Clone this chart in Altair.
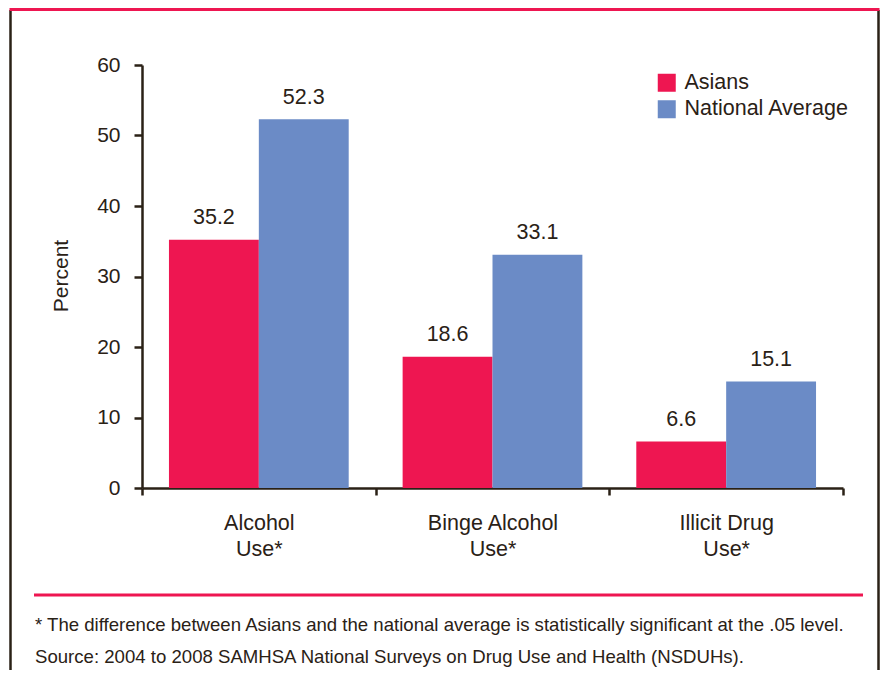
import altair as alt
import pandas as pd

categories = ["Alcohol Use*", "Binge Alcohol Use*", "Illicit Drug Use*"]
groups = ["Asians", "National Average"]
asians = [35.2, 18.6, 6.6]
national = [52.3, 33.1, 15.1]
y_ticks = [0, 10, 20, 30, 40, 50, 60]
footnote1 = "* The difference between Asians and the national average is statistically significant at the .05 level."
footnote2 = "Source: 2004 to 2008 SAMHSA National Surveys on Drug Use and Health (NSDUHs)."

PINK = "#EE1651"
BLUE = "#6B8BC6"
INK = "#2a2116"
FONT = "Liberation Sans"

rows = []
for c, a, n in zip(categories, asians, national):
    rows.append({"category": c, "group": groups[0], "value": a})
    rows.append({"category": c, "group": groups[1], "value": n})
df = pd.DataFrame(rows)

W, H = 701, 423

x_enc = alt.X(
    "category:N",
    sort=categories,
    scale=alt.Scale(paddingInner=0, paddingOuter=0),
    axis=alt.Axis(
        title=None,
        labelAngle=0,
        labelExpr="[slice(datum.label, 0, lastindexof(datum.label, ' ')), slice(datum.label, lastindexof(datum.label, ' ') + 1)]",
        labelFontSize=21.5,
        labelLineHeight=26,
        labelPadding=17,
        labelColor=INK,
        tickBand="extent",
        tickSize=7,
        tickWidth=2.5,
        tickColor=INK,
        domainWidth=2.5,
        domainColor=INK,
        grid=False,
    ),
)
xoff_enc = alt.XOffset(
    "group:N", sort=groups, scale=alt.Scale(paddingInner=0, paddingOuter=0.3)
)
y_enc = alt.Y(
    "value:Q",
    scale=alt.Scale(domain=[0, 60], nice=False),
    axis=alt.Axis(
        title="Percent",
        values=y_ticks,
        grid=False,
        labelFontSize=21,
        labelPadding=14,
        labelColor=INK,
        tickSize=8,
        tickWidth=2.5,
        tickColor=INK,
        domainWidth=2.5,
        domainColor=INK,
        titleFontSize=21,
        titleFontWeight="normal",
        titleColor=INK,
        titleAngle=270,
        titleX=-75,
        titleY=210.5,
        titleAlign="center",
        titleBaseline="alphabetic",
    ),
)

bars = alt.Chart(df).mark_bar().encode(
    x=x_enc,
    xOffset=xoff_enc,
    y=y_enc,
    color=alt.Color(
        "group:N",
        sort=groups,
        scale=alt.Scale(domain=groups, range=[PINK, BLUE]),
        legend=alt.Legend(
            title=None,
            orient="none",
            legendX=514,
            legendY=7,
            symbolType="square",
            symbolSize=324,
            symbolStrokeWidth=0,
            labelFontSize=21.5,
            labelColor=INK,
            labelOffset=7,
            labelLimit=400,
            rowPadding=3.5,
            padding=0,
        ),
    ),
)

labels = alt.Chart(df).mark_text(
    baseline="alphabetic", dy=-15.5, fontSize=21.5, color=INK
).encode(
    x=alt.X("category:N", sort=categories),
    xOffset=alt.XOffset("group:N", sort=groups),
    y="value:Q",
    text=alt.Text("value:Q", format=".1f"),
)

one = pd.DataFrame({"k": [0]})

left_line = alt.Chart(one).mark_rule(color=INK, strokeWidth=2.5).encode(
    x=alt.value(-131.5), y=alt.value(-55), y2=alt.value(610)
)
right_line = alt.Chart(one).mark_rule(color=INK, strokeWidth=2.5).encode(
    x=alt.value(736.5), y=alt.value(-55), y2=alt.value(610)
)
top_line = alt.Chart(one).mark_rule(color=PINK, strokeWidth=3).encode(
    x=alt.value(-132.5), x2=alt.value(737.5), y=alt.value(-55.5)
)
bottom_line = alt.Chart(one).mark_rule(color=PINK, strokeWidth=3).encode(
    x=alt.value(-108), x2=alt.value(721), y=alt.value(530)
)
note1 = alt.Chart(one).mark_text(
    align="left", baseline="alphabetic", fontSize=18.6, color=INK
).encode(x=alt.value(-107), y=alt.value(565.7), text=alt.value(footnote1))
note2 = alt.Chart(one).mark_text(
    align="left", baseline="alphabetic", fontSize=18.6, color=INK
).encode(x=alt.value(-107), y=alt.value(598), text=alt.value(footnote2))

chart = (
    alt.layer(bars, labels, left_line, right_line, top_line, bottom_line, note1, note2)
    .properties(
        width=W,
        height=H,
        autosize=alt.AutoSizeParams(type="none"),
        padding={"left": 134, "top": 57, "right": 37, "bottom": 182},
    )
    .configure(font=FONT)
    .configure_view(stroke=None)
)

chart.save("out.html", embed_options={"renderer": "svg", "actions": False})
